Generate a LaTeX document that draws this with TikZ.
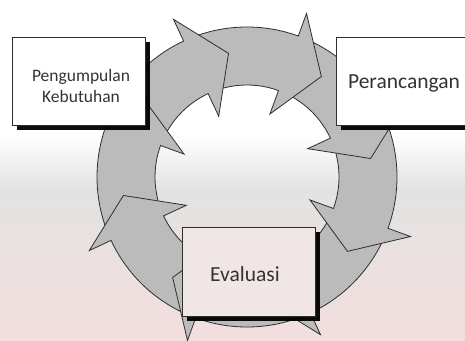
\documentclass[tikz,border=0pt]{standalone}
\usepackage{fontspec}
\setmainfont{Carlito}
\usetikzlibrary{calc,shadows}
\definecolor{arrowfill}{HTML}{BBBBBB}
\definecolor{edgecol}{HTML}{2E2E2E}
\definecolor{txtcol}{HTML}{333333}
\definecolor{bgmid}{HTML}{E3E2E2}
\definecolor{bglow}{HTML}{F3DEDE}
\definecolor{evalfill}{HTML}{F1E6E6}
\begin{document}
\begin{tikzpicture}[x=1pt,y=1pt,
  arrowshape/.style={fill=arrowfill, draw=edgecol, line width=0.8pt, line join=miter},
  stagebox/.style={draw=edgecol, line width=0.8pt, fill=white, inner sep=0pt,
    drop shadow={shadow xshift=4.5pt, shadow yshift=-4.5pt, fill=black, opacity=0.95}},
  stagetext/.style={text=txtcol, inner sep=0pt}]
\useasboundingbox (0,0) rectangle (465,340);
\clip (0,0) rectangle (465,340);
% soft background
\fill[white] (0,0) rectangle (465,340);
\shade[top color=white, bottom color=bgmid] (0,150) rectangle (465,205);
\shade[top color=bgmid, bottom color=bglow] (0,0) rectangle (465,150);
% ring of arrows
\coordinate (C) at (247,163);
\foreach \bang in {-65,-20,25,70,115,160,205,250}{
  \pgfmathsetmacro{\tailang}{\bang+44}
  \pgfmathsetmacro{\tipang}{\bang-16.5}
  \draw[arrowshape] ($(C)+(\tailang:150pt)$) arc[start angle=\tailang, end angle=\bang, radius=150pt]
    -- ($(C)+(\bang:174pt)$) -- ($(C)+(\tipang:125pt)$) -- ($(C)+(\bang:67pt)$)
    -- ($(C)+(\bang:92pt)$) arc[start angle=\bang, end angle=\tailang, radius=92pt] -- cycle;
}
% boxes
\node[stagebox, anchor=south west, minimum width=133pt, minimum height=88pt] (pkbox) at (12,214) {};
\node[stagebox, anchor=south west, minimum width=140pt, minimum height=88pt] (prbox) at (336,214) {};
\node[stagebox, anchor=south west, minimum width=133pt, minimum height=89pt, fill=evalfill] (evbox) at (182,23) {};
% texts
\node[stagetext, align=center, font=\fontsize{17.5}{21.3}\selectfont] (pktext) at (81,254) {Pengumpulan\\Kebutuhan};
\node[stagetext, anchor=base, font=\fontsize{21.5}{26}\selectfont] (prtext) at (404,251) {Perancangan};
\node[stagetext, anchor=base, font=\fontsize{21.5}{26}\selectfont] (evtext) at (245,58.3) {Evaluasi};
\end{tikzpicture}
\end{document}
